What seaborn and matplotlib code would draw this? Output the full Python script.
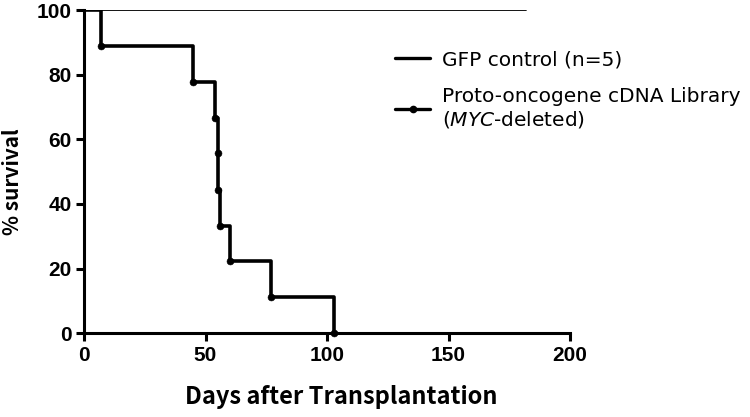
import matplotlib
matplotlib.use("Agg")
import matplotlib.pyplot as plt
from matplotlib.lines import Line2D
import seaborn as sns
import pandas as pd

# Kaplan-Meier style survival data
gfp_days = [0, 182]
gfp_surv = [100, 100]

lib_days = [0, 7, 45, 54, 55, 55, 56, 60, 77, 103]
lib_surv = [100, 88.9, 77.8, 66.7, 55.6, 44.4, 33.3, 22.2, 11.1, 0]

x_ticks = [0, 50, 100, 150, 200]
y_ticks = [0, 20, 40, 60, 80, 100]

sns.set_style("ticks")
plt.rcParams['font.family'] = ['Liberation Sans', 'DejaVu Sans']
plt.rcParams['mathtext.fontset'] = 'custom'
plt.rcParams['mathtext.it'] = 'DejaVu Sans:italic'
for key in ['text.color', 'axes.labelcolor', 'xtick.color', 'ytick.color', 'axes.edgecolor']:
    plt.rcParams[key] = 'black'

gfp = pd.DataFrame({'day': gfp_days, 'surv': gfp_surv})
lib = pd.DataFrame({'day': lib_days, 'surv': lib_surv})

fig = plt.figure(figsize=(7.5, 4.17), dpi=100)
ax = fig.add_axes([0.112, 0.201, 0.648, 0.775])

sns.lineplot(data=gfp, x='day', y='surv', ax=ax, color='black', linewidth=1.3,
             drawstyle='steps-post', estimator=None, sort=False)
sns.lineplot(data=lib, x='day', y='surv', ax=ax, color='black', linewidth=2.6,
             drawstyle='steps-post', estimator=None, sort=False)
sns.scatterplot(data=lib.iloc[1:], x='day', y='surv', ax=ax, color='black',
                s=25, edgecolor='black', zorder=5, clip_on=False)

ax.set_xlim(0, 200)
ax.set_ylim(0, 100)
ax.set_xticks(x_ticks)
ax.set_yticks(y_ticks)
for lab in ax.get_xticklabels() + ax.get_yticklabels():
    lab.set_fontsize(15)
    lab.set_fontweight('bold')

sns.despine(ax=ax)
for side in ['left', 'bottom']:
    ax.spines[side].set_linewidth(2.2)
    ax.spines[side].set_color('black')
ax.tick_params(width=2.2, length=6, direction='out', pad=3, colors='black')

ax.set_xlabel('Days after Transplantation', fontsize=17, fontweight='bold',
              family=['Noto Sans CJK KR', 'DejaVu Sans'])
ax.set_ylabel('% survival', fontsize=15, fontweight='bold',
              family=['Noto Sans CJK KR', 'DejaVu Sans'])
ax.xaxis.set_label_coords(0.529, -0.16)
ax.yaxis.set_label_coords(-0.126, 0.47)

handles = [
    Line2D([], [], color='black', linewidth=2.4),
    Line2D([], [], color='black', linewidth=2.4, marker='o', markersize=4.5),
]
labels = ['GFP control (n=5)', 'Proto-oncogene cDNA Library\n($\\it{MYC}$-deleted)']
leg = ax.legend(handles, labels, loc='upper left', bbox_to_anchor=(0.64, 0.875),
                frameon=False, borderpad=0, borderaxespad=0,
                handlelength=1.75, handletextpad=0.6, labelspacing=0.85,
                prop={'family': ['DejaVu Sans'], 'size': 14.5})

fig.savefig('out.png', dpi=100)
